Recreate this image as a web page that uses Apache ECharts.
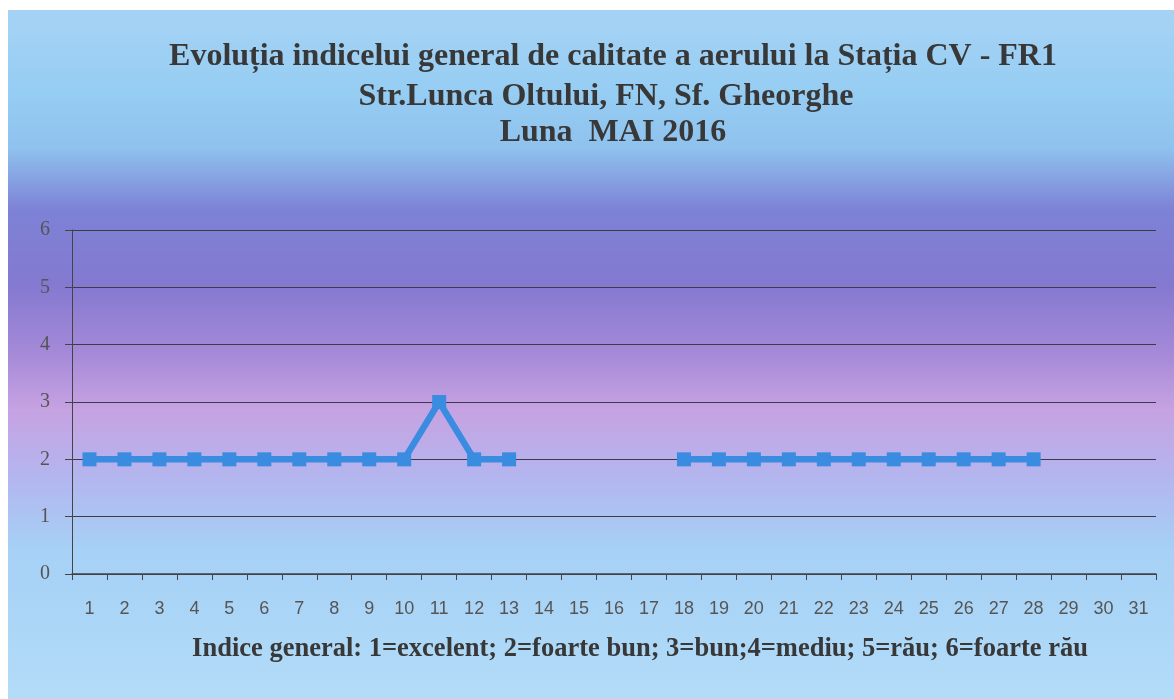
<!DOCTYPE html>
<html><head><meta charset="utf-8">
<script src="https://cdn.jsdelivr.net/npm/echarts@6/dist/echarts.min.js"></script>
<style>html,body{margin:0;padding:0;background:#fff}#c{width:1174px;height:699px}</style>
</head><body><div id="c"></div>
<script>
const days = ['1','2','3','4','5','6','7','8','9','10','11','12','13','14','15','16','17','18','19','20','21','22','23','24','25','26','27','28','29','30','31'];
const indice = [2,2,2,2,2,2,2,2,2,2,3,2,2,null,null,null,null,2,2,2,2,2,2,2,2,2,2,2,null,null,null];
const yTicks = [0,1,2,3,4,5,6];
const titleLines = ['Evoluția indicelui general de calitate a aerului la Stația CV - FR1', 'Str.Lunca Oltului, FN, Sf. Gheorghe', 'Luna  MAI 2016'];
const xName = 'Indice general: 1=excelent; 2=foarte bun; 3=bun;4=mediu; 5=rău; 6=foarte rău';

const titleY = [57, 97, 133];
const titleX = [613, 606, 613];
const titleGraphics = titleLines.map((t, i) => ({
  type: 'text', silent: true, z: 10,
  style: {x: titleX[i], y: titleY[i], text: t, textAlign: 'center', textVerticalAlign: 'middle',
    font: 'bold 32px "Liberation Serif"', fill: '#383838'}
}));

const chart = echarts.init(document.getElementById('c'));
chart.setOption({
  backgroundColor: '#ffffff',
  animation: false,
  graphic: [{
    type: 'rect', z: -10, silent: true,
    shape: {x: 8, y: 10, width: 1166, height: 689},
    style: {
      fill: new echarts.graphic.LinearGradient(0, 0, 0, 1, [
        {offset: 0, color: '#a6d3f5'},
        {offset: 0.12, color: '#96cdf3'},
        {offset: 0.2, color: '#8fc2ee'},
        {offset: 0.29, color: '#7d82d6'},
        {offset: 0.4, color: '#8479d0'},
        {offset: 0.5, color: '#a68ad8'},
        {offset: 0.58, color: '#c6a2e2'},
        {offset: 0.68, color: '#b3b6ef'},
        {offset: 0.78, color: '#a6d0f5'},
        {offset: 1, color: '#b2dcf8'}
      ])
    }
  }].concat(titleGraphics, [{
    type: 'text', silent: true, z: 10,
    style: {x: 640, y: 649, text: xName, textAlign: 'center', textVerticalAlign: 'middle',
      font: 'bold 26.5px "Liberation Serif"', fill: '#383838'}
  }]),
  grid: {left: 72, right: 18, top: 230, bottom: 125},
  xAxis: {
    type: 'category', data: days, boundaryGap: true,
    axisLine: {lineStyle: {color: '#444', width: 1.5}},
    axisTick: {show: true, alignWithLabel: false, length: 6, lineStyle: {color: '#444'}},
    axisLabel: {fontFamily: 'Liberation Sans', fontSize: 18, color: '#555', margin: 26}
  },
  yAxis: {
    type: 'value', min: 0, max: 6, interval: 1,
    axisLine: {show: true, lineStyle: {color: '#444', width: 1}},
    axisTick: {show: true, length: 7, lineStyle: {color: '#444'}},
    axisLabel: {fontFamily: 'Liberation Serif', fontSize: 20, color: '#555', margin: 22,
      formatter: v => yTicks.includes(v) ? String(v) : ''},
    splitLine: {show: true, lineStyle: {color: '#3b3b4a', width: 1.2}}
  },
  series: [{
    type: 'line', data: indice, connectNulls: false,
    symbol: 'rect', symbolSize: 14,
    lineStyle: {color: '#3a8ce0', width: 6.5},
    itemStyle: {color: '#3a8ce0'}
  }]
});
</script></body></html>
